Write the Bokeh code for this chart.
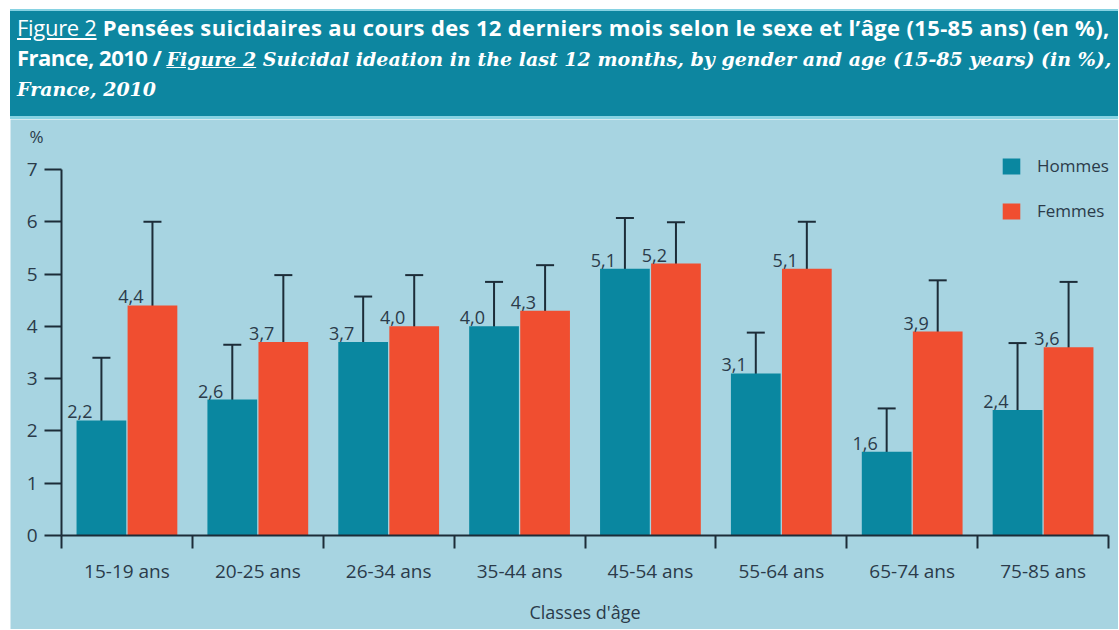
from bokeh.plotting import figure
from bokeh.models import (Range1d, FixedTicker, ColumnDataSource, Whisker, TeeHead,
                          Label, Div, Legend, LegendItem)
from bokeh.layouts import column
from bokeh.embed import file_html
from bokeh.resources import INLINE
from bokeh.core.properties import value

# ---------------- data ----------------
categories = ["15-19 ans", "20-25 ans", "26-34 ans", "35-44 ans",
              "45-54 ans", "55-64 ans", "65-74 ans", "75-85 ans"]
hommes = [2.2, 2.6, 3.7, 4.0, 5.1, 3.1, 1.6, 2.4]
hommes_low = [0.98, 1.61, 2.79, 3.11, 4.13, 2.34, 0.77, 1.09]
hommes_high = [3.40, 3.65, 4.57, 4.85, 6.07, 3.88, 2.43, 3.68]
femmes = [4.4, 3.7, 4.0, 4.3, 5.2, 5.1, 3.9, 3.6]
femmes_low = [2.79, 2.43, 3.00, 3.40, 4.37, 4.16, 2.84, 2.34]
femmes_high = [6.00, 4.98, 4.98, 5.17, 5.99, 6.00, 4.88, 4.85]
y_ticks = [0, 1, 2, 3, 4, 5, 6, 7]

# ---------------- style ----------------
BG = "#a7d4e1"
BAND = "#0d86a0"
TEAL = "#0a87a0"
ORANGE = "#f04e30"
DARK = "#1c2c38"
TXT = "#2b3b4a"
SANS = "Open Sans"
SERIF = "'DejaVu Serif', 'Liberation Serif', serif"

n = len(categories)
centers = [i + 0.5 for i in range(n)]
dodge = 0.195
bar_w = 0.38

src_h = ColumnDataSource(dict(
    x=[c - dodge for c in centers], v=hommes, lo=hommes_low, hi=hommes_high,
    lab=[f"{v:.1f}".replace(".", ",") for v in hommes]))
src_f = ColumnDataSource(dict(
    x=[c + dodge for c in centers], v=femmes, lo=femmes_low, hi=femmes_high,
    lab=[f"{v:.1f}".replace(".", ",") for v in femmes]))

# ---------------- title band ----------------
title_html = f"""
<div style="width:1108px;height:110px;box-sizing:border-box;background:{BAND};
border-top:2px solid #86d2e2;border-bottom:3px solid #86d2e2;color:#ffffff;
padding:2px 0 0 7px;white-space:nowrap;overflow:hidden;font-size:22px;line-height:29px;">
<span style="font-family:'Open Sans';text-decoration:underline;letter-spacing:-0.3px;">Figure 2</span>
<b style="font-family:'Open Sans';letter-spacing:0.35px;">Pensées suicidaires au cours des 12 derniers mois selon le sexe et l’âge (15-85 ans) (en %),</b><br>
<b style="font-family:'Open Sans';letter-spacing:-0.5px;">France, 2010 / </b><b style="font-family:{SERIF};font-style:italic;font-size:19px;"><u>Figure 2</u> Suicidal ideation in the last 12 months, by gender and age (15-85 years) (in %),</b><br>
<b style="font-family:{SERIF};font-style:italic;font-size:19px;">France, 2010</b>
</div>
"""
title = Div(text=title_html, width=1108, height=110, margin=(9, 0, 0, 10))

# ---------------- figure ----------------
# The frame fills the whole figure; both axes are pinned at 0 so that their
# labels, the "%" and the legend all live inside the frame.
p = figure(width=1108, height=510, x_range=Range1d(-0.3897, 8.0764),
           y_range=Range1d(-1.798, 7.956),
           output_backend="svg", toolbar_location=None,
           min_border=0, margin=(0, 0, 0, 10))
p.background_fill_color = BG
p.border_fill_color = BG
p.outline_line_color = None
p.grid.visible = False

rh = p.vbar(x="x", top="v", width=bar_w, source=src_h, fill_color=TEAL, line_color=None)
rf = p.vbar(x="x", top="v", width=bar_w, source=src_f, fill_color=ORANGE, line_color=None)

for src in (src_h, src_f):
    w = Whisker(source=src, base="x", upper="hi", lower="lo", dimension="height",
                line_color=DARK, line_width=2,
                upper_head=TeeHead(size=18, line_color=DARK, line_width=2),
                lower_head=TeeHead(size=18, line_color=DARK, line_width=2))
    p.add_layout(w)
    p.text(x="x", y="v", text="lab", source=src, text_align="right", text_baseline="bottom",
           x_offset=-9, y_offset=-2, text_font=value(SANS), text_font_size="18px",
           text_color=TXT)

# x axis
xa = p.xaxis[0]
xa.fixed_location = 0
xa.bounds = (0, n)
xa.ticker = FixedTicker(ticks=centers, minor_ticks=list(range(n + 1)))
xa.major_label_overrides = {c: lab for c, lab in zip(centers, categories)}
xa.major_tick_line_color = None
xa.major_tick_out = 0
xa.minor_tick_out = 13
xa.minor_tick_in = 0
xa.minor_tick_line_color = DARK
xa.minor_tick_line_width = 2
xa.axis_line_color = DARK
xa.axis_line_width = 2
xa.major_label_standoff = 10
xa.major_label_text_font = SANS
xa.major_label_text_font_size = "19px"
xa.major_label_text_color = TXT
xa.axis_label = "Classes d'âge"
xa.axis_label_text_font = SANS
xa.axis_label_text_font_size = "18px"
xa.axis_label_text_font_style = "normal"
xa.axis_label_text_color = TXT
xa.axis_label_standoff = 12

# y axis
ya = p.yaxis[0]
ya.fixed_location = 0
ya.ticker = FixedTicker(ticks=y_ticks, minor_ticks=[])
ya.bounds = (0, 7)
ya.major_tick_out = 17
ya.major_tick_in = 0
ya.major_tick_line_color = DARK
ya.major_tick_line_width = 2
ya.axis_line_color = DARK
ya.axis_line_width = 2
ya.major_label_standoff = 7
ya.major_label_text_font = SANS
ya.major_label_text_font_size = "19px"
ya.major_label_text_color = TXT

p.add_layout(Label(x=0, y=7, text="%", x_offset=-25, y_offset=21, text_align="center",
                   text_baseline="bottom", text_font=SANS, text_font_size="17px",
                   text_color=TXT))

legend = Legend(items=[LegendItem(label="Hommes", renderers=[rh]),
                       LegendItem(label="Femmes", renderers=[rf])],
                location=(990, 407), orientation="vertical",
                glyph_width=22, glyph_height=20, label_standoff=15, spacing=22,
                padding=0, margin=0, background_fill_alpha=0, border_line_color=None,
                label_text_font=SANS, label_text_font_size="17px", label_text_color=TXT)
p.add_layout(legend)

layout = column(title, p, spacing=0)
open("out.html", "w").write(file_html(layout, INLINE))
